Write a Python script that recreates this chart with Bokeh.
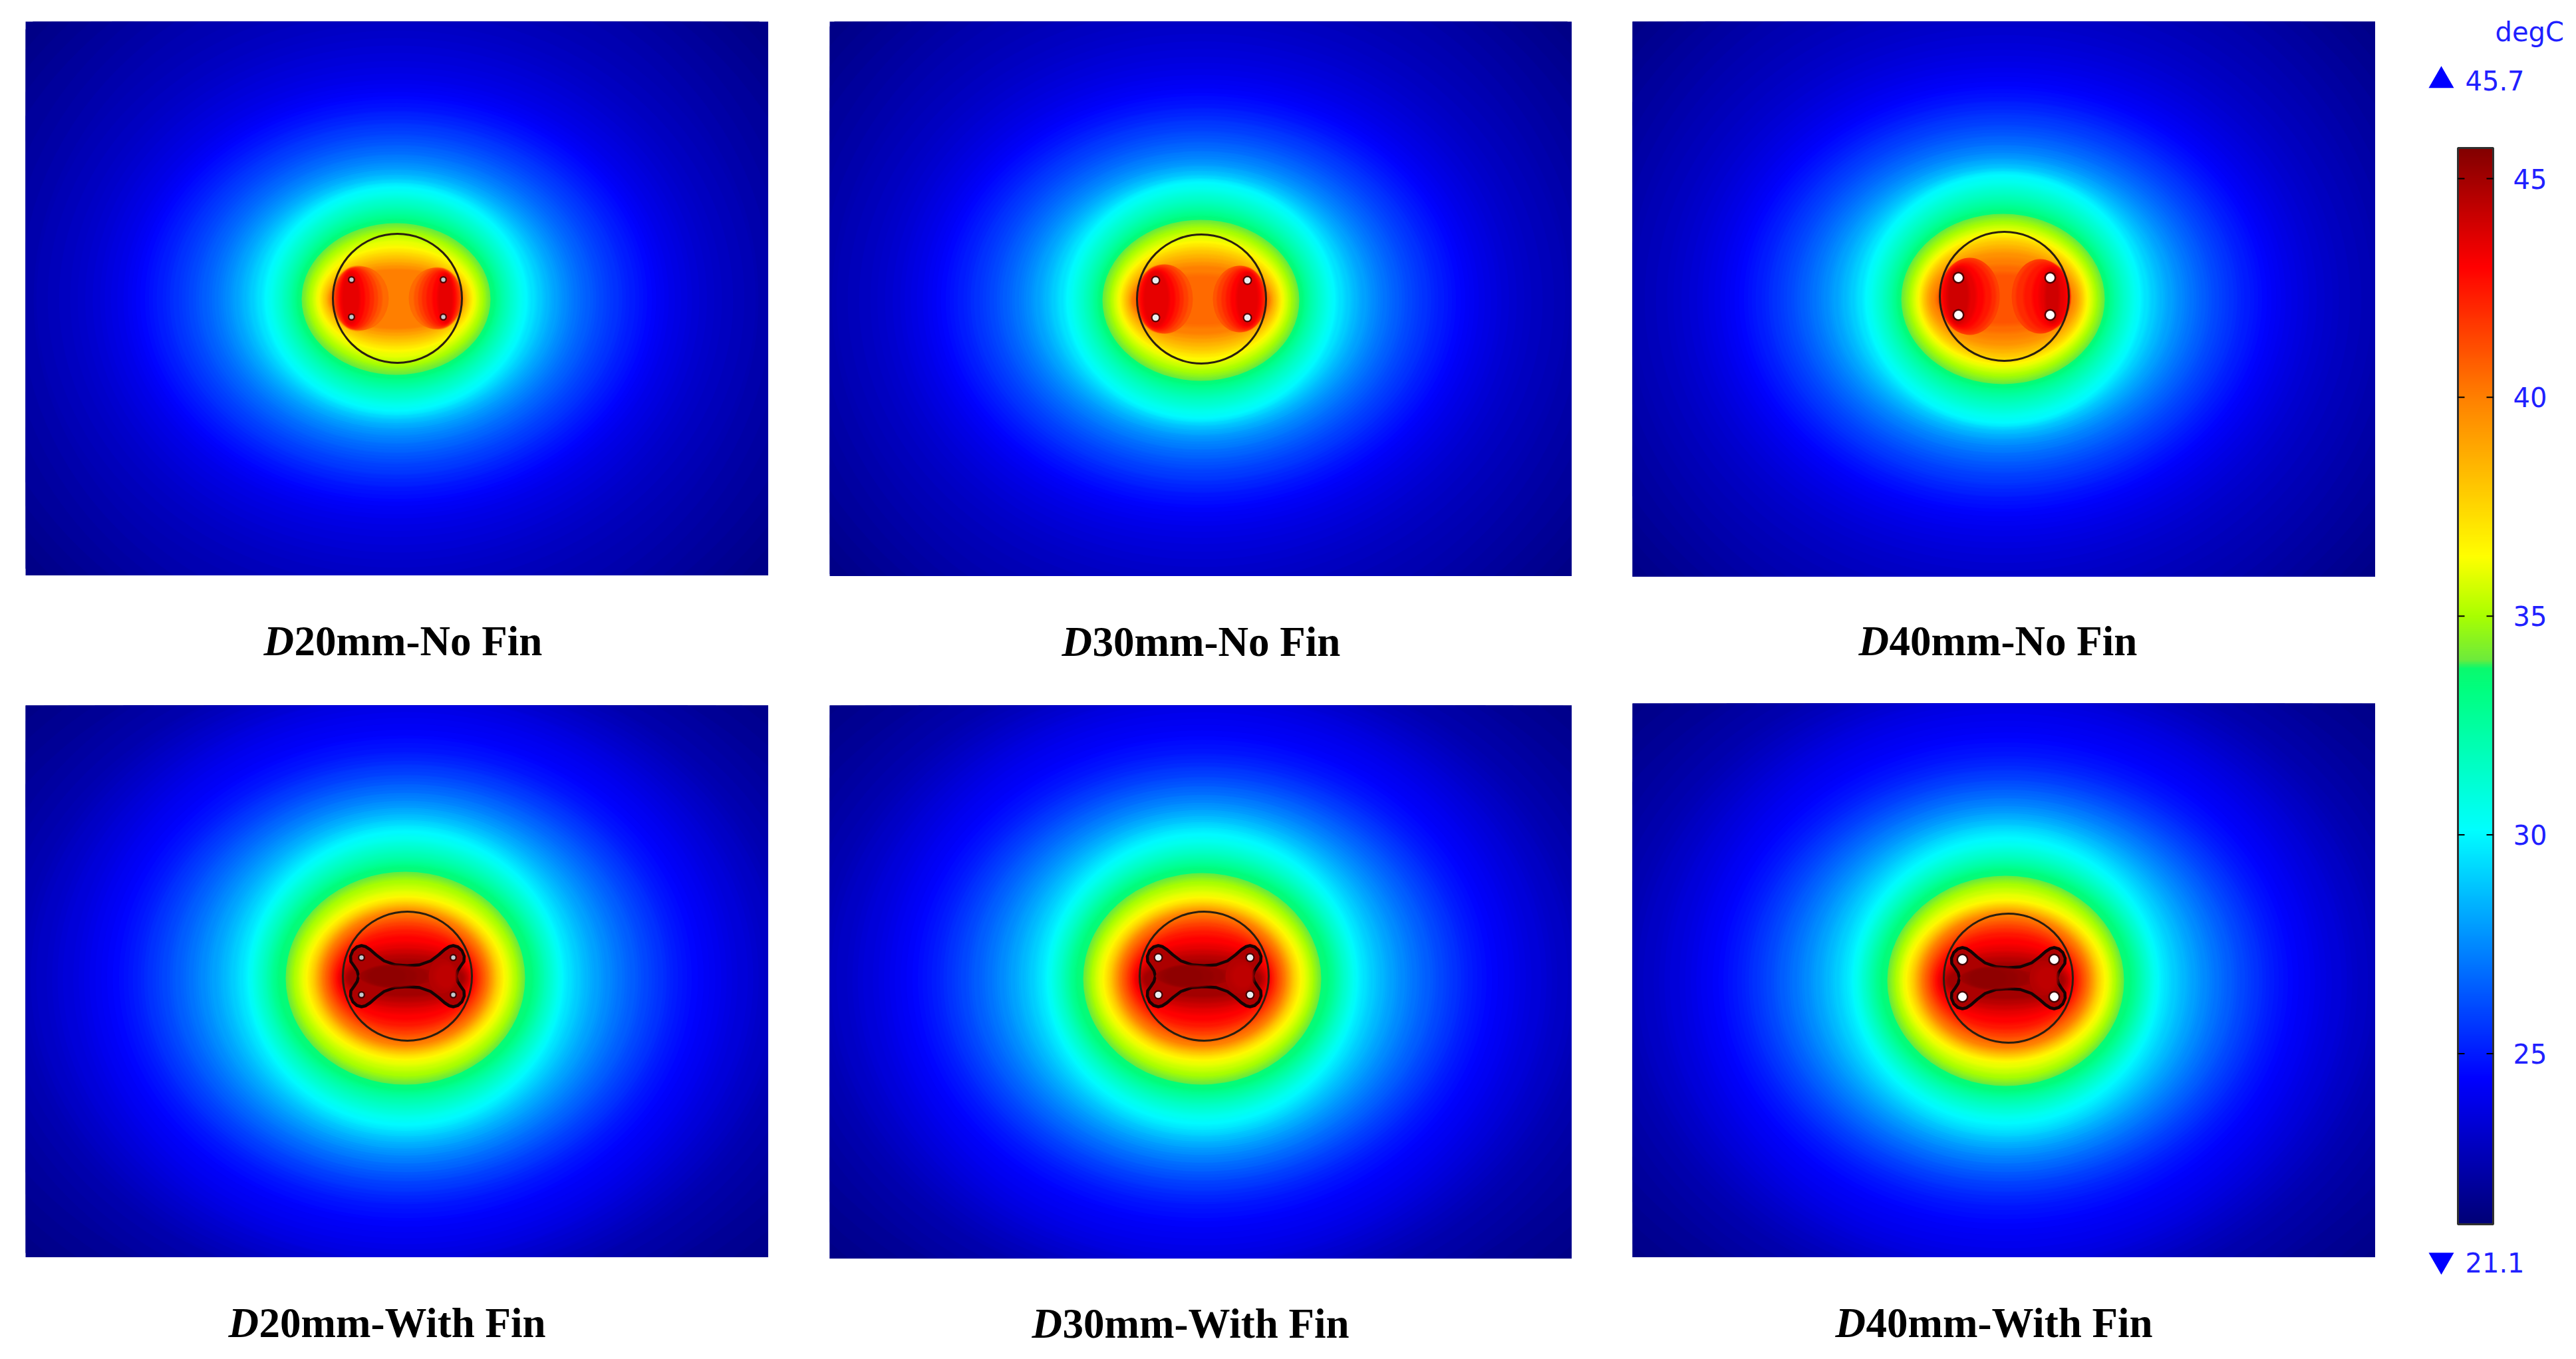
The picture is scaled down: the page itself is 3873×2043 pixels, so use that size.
import numpy as np
from bokeh.embed import file_html
from bokeh.resources import INLINE
from bokeh.core.properties import value
from bokeh.layouts import column, row, Spacer
from bokeh.models import ColumnDataSource, LinearColorMapper, Range1d
from bokeh.plotting import figure

# ---------- colour scale ----------
T_MIN, T_MAX = 21.1, 45.7
SCALE_T = [21.1, 24.4, 30.1, 33.3, 33.8, 34.0, 35.0, 36.35, 40.0, 43.0, 45.7]
SCALE_R = [0, 0, 0, 0, 10, 110, 170, 255, 255, 255, 130]
SCALE_G = [0, 0, 255, 255, 250, 235, 255, 255, 128, 0, 0]
SCALE_B = [120, 255, 255, 128, 110, 60, 0, 0, 0, 0, 0]
TICKS = [25, 30, 35, 40, 45]
TICK_LABELS = ["25", "30", "35", "40", "45"]
UNIT = "degC"
MAX_LABEL = "45.7"
MIN_LABEL = "21.1"

# ---------- isotherm levels (deg C) ----------
LEVELS = [21.5, 22.0, 22.5, 23.0, 23.5, 24.0, 24.5, 25.0, 25.5, 26.0, 26.5, 27.0, 27.5, 28.0, 28.5, 29.0,
          29.5, 30.0, 30.5, 31.0, 31.5, 32.0, 32.5, 33.0, 33.5, 34.0, 34.5, 35.0, 35.5, 36.0, 36.5, 37.0,
          37.5, 38.0, 38.5, 39.0, 39.5, 40.0, 40.5, 41.0, 41.5, 42.0, 42.5, 43.0, 43.5, 44.0, 44.5, 45.0]

# half-extent of each isotherm
RX_D20_NOFIN = [720, 640, 545, 490, 445, 410, 385, 360, 335, 312, 292, 273, 257, 243, 230, 219,
                208, 197, 188, 180, 172, 165, 158, 152, 147, 142, 136, 131, 125, 120, 116, 113,
                110, 107, 104, 102, 100, 98]
RY_D20_NOFIN = [640, 560, 495, 415, 370, 330, 305, 283, 265, 248, 232, 218, 206, 195, 187, 180,
                174, 169, 161, 153, 146, 138, 131, 124, 118, 114, 107, 101, 94, 87, 79, 74,
                69, 64, 59, 54, 49, 44]
RX_D30_NOFIN = [725, 645, 555, 497, 452, 418, 391, 366, 341, 318, 298, 280, 263, 249, 235, 224,
                213, 202, 193, 185, 177, 170, 163, 157, 152, 148, 142, 136, 131, 126, 122, 119,
                116, 113, 110, 107, 105, 102, 98]
RY_D30_NOFIN = [645, 568, 503, 425, 378, 339, 312, 290, 272, 255, 239, 225, 213, 202, 195, 188,
                182, 178, 170, 161, 153, 145, 138, 131, 125, 121, 115, 109, 102, 95, 89, 84,
                79, 74, 68, 62, 56, 50, 36]
RX_D40_NOFIN = [730, 650, 565, 505, 460, 425, 397, 372, 347, 325, 305, 287, 270, 255, 241, 229,
                218, 207, 198, 190, 182, 175, 168, 162, 157, 153, 147, 141, 136, 131, 127, 124,
                121, 118, 115, 112, 108, 102, 98, 94]
RY_D40_NOFIN = [650, 575, 510, 435, 385, 348, 320, 298, 280, 262, 246, 232, 220, 210, 203, 196,
                191, 187, 178, 169, 161, 153, 145, 138, 132, 128, 122, 116, 110, 104, 99, 95,
                91, 86, 80, 74, 68, 58, 48, 36]
RX_D20_FIN = [800, 690, 600, 555, 515, 475, 440, 410, 388, 366, 346, 326, 308, 291, 275, 262,
              249, 237, 230, 223, 216, 209, 203, 197, 190, 180, 174, 168, 161, 155, 149, 145,
              141, 137, 134, 131, 128, 125, 121, 117, 113, 109, 105, 100, 97, 94, 90, 86]
RY_D20_FIN = [590, 520, 475, 450, 425, 400, 365, 340, 322, 306, 292, 279, 267, 256, 247, 238,
              230, 222, 212, 203, 195, 187, 179, 172, 166, 160, 153, 147, 138, 130, 123, 119,
              115, 112, 109, 106, 103, 100, 94, 88, 83, 77, 71, 62, 50, 42, 34, 26]
RX_D30_FIN = [795, 685, 595, 550, 510, 470, 436, 407, 384, 363, 343, 323, 305, 288, 273, 259,
              246, 234, 227, 220, 213, 207, 201, 195, 188, 179, 173, 167, 161, 155, 149, 145,
              141, 137, 134, 131, 128, 125, 121, 117, 113, 109, 105, 100, 97, 94, 90, 86]
RY_D30_FIN = [595, 525, 480, 452, 428, 401, 365, 339, 320, 304, 290, 277, 265, 254, 245, 236,
              228, 219, 209, 200, 192, 185, 178, 171, 165, 159, 152, 146, 138, 130, 123, 119,
              115, 112, 109, 106, 103, 100, 94, 88, 83, 77, 71, 62, 50, 42, 34, 26]
RX_D40_FIN = [790, 680, 590, 545, 505, 465, 432, 404, 381, 360, 340, 321, 303, 286, 271, 257,
              243, 231, 224, 217, 211, 205, 199, 193, 186, 178, 172, 166, 160, 155, 150, 146,
              142, 138, 135, 132, 129, 126, 122, 118, 114, 110, 106, 101, 97, 94, 90, 86]
RY_D40_FIN = [600, 530, 485, 455, 430, 402, 365, 338, 318, 302, 288, 275, 263, 252, 243, 234,
              226, 216, 206, 198, 190, 183, 176, 170, 164, 158, 152, 146, 138, 130, 122, 118,
              115, 112, 109, 106, 103, 100, 94, 88, 83, 77, 71, 62, 50, 42, 34, 26]

# warm lobes near the pipes, no-fin panels (temperature, offset from tube centre, half extents)
LOBE_T_D20 = [40.5, 41.0, 41.5, 42.0, 42.5, 43.0, 43.5]
LOBE_L_DX_D20 = [-55, -60, -62, -64, -66, -68, -70]
LOBE_L_RX_D20 = [42, 36, 32, 28, 23, 18, 12]
LOBE_L_RY_D20 = [48, 47, 46, 45, 43, 41, 37]
LOBE_R_DX_D20 = [57, 61, 63, 65, 67, 70, 72]
LOBE_R_RX_D20 = [40, 35, 31, 27, 22, 16, 10]
LOBE_R_RY_D20 = [46, 45, 44, 42, 40, 38, 35]
LOBE_T_D30 = [41.0, 41.5, 42.0, 42.5, 43.0, 43.5]
LOBE_L_DX_D30 = [-55, -59, -62, -64, -66, -68]
LOBE_L_RX_D30 = [42, 38, 34, 30, 25, 18]
LOBE_L_RY_D30 = [52, 50, 48, 46, 43, 40]
LOBE_R_DX_D30 = [57, 60, 63, 65, 67, 69]
LOBE_R_RX_D30 = [40, 36, 32, 27, 22, 15]
LOBE_R_RY_D30 = [50, 48, 46, 44, 41, 38]
LOBE_T_D40 = [41.5, 42.0, 42.5, 43.0, 43.5, 44.0]
LOBE_L_DX_D40 = [-52, -55, -58, -62, -66, -69]
LOBE_L_RX_D40 = [45, 41, 37, 30, 22, 14]
LOBE_L_RY_D40 = [58, 54, 50, 46, 42, 38]
LOBE_R_DX_D40 = [54, 58, 64, 70, 72, 72]
LOBE_R_RX_D40 = [43, 39, 33, 26, 17, 9]
LOBE_R_RY_D40 = [56, 52, 48, 44, 40, 37]

# fin outline, one quadrant, relative to the tube centre
FIN_DX = [0, 18, 35, 47, 56, 63, 69, 76, 82, 85.5, 85, 80, 75.5, 73.5]
FIN_DY = [-15.7, -17, -23, -32, -40, -44.5, -46, -44, -38.5, -30, -22, -15, -8, 0]
FIN_T = 44.8
FIN_CORE_T = [45.0, 45.15, 45.3, 45.4]
FIN_CORE_DX = [-15, -20, -25, -30]
FIN_CORE_RX = [58, 48, 36, 25]
FIN_CORE_RY = [15, 14, 13, 12]
FIN_WARM_T = [44.6, 44.4]
FIN_WARM_DX = [52, 58]
FIN_WARM_RX = [20, 14]
FIN_WARM_RY = [26, 16]

PIPE_DX = [-69, 69, -69, 69]
PIPE_DY = [-28, -28, 28, 28]

CAPTIONS = ["20mm-No Fin", "30mm-No Fin", "40mm-No Fin", "20mm-With Fin", "30mm-With Fin", "40mm-With Fin"]
CAPTION_ITALIC = "D"

# ---------- scale ----------
ramp = np.linspace(T_MIN, T_MAX, 1024)
rgb = np.stack([np.interp(ramp, SCALE_T, c) for c in (SCALE_R, SCALE_G, SCALE_B)], axis=1).astype(int)
palette = ["#%02x%02x%02x" % tuple(c) for c in rgb]
mapper = LinearColorMapper(palette=palette, low=T_MIN, high=T_MAX)
T_COLOR = {"field": "T", "transform": mapper}


def ellipses(p, cx, cy, temps, rx, ry, dx=None):
    """Each isotherm is drawn as a filled ellipse; soft translucent rims blend it into the band outside it."""
    n = min(len(temps), len(rx), len(ry))
    dx = dx or [0] * n
    rows = dict(x=[], y=[], w=[], h=[], T=[], lw=[], la=[], fa=[])

    def add(i, lw, la, fa):
        rows["x"].append(cx + dx[i])
        rows["y"].append(cy)
        rows["w"].append(2 * rx[i])
        rows["h"].append(2 * ry[i])
        rows["T"].append(temps[i])
        rows["lw"].append(lw)
        rows["la"].append(la)
        rows["fa"].append(fa)

    for i in range(n):
        if i > 0 and temps[i] != 34.0:
            gap = ((rx[i - 1] - rx[i]) + (ry[i - 1] - ry[i])) / 2
            if gap > 1:
                add(i, 1.5 * gap, 0.25, 0.0)
                add(i, 1.0 * gap, 1 / 3, 0.0)
                add(i, 0.5 * gap, 0.5, 0.0)
        add(i, 0, 0.0, 1.0)
    src = ColumnDataSource(rows)
    p.ellipse("x", "y", width="w", height="h", source=src, fill_color=T_COLOR, fill_alpha="fa",
              line_color=T_COLOR, line_alpha="la", line_width="lw")


def panel(w, h, iso, tube, rx, ry, hole, ring, core_color, lobes=None, fin=False):
    p = figure(width=w, height=h, x_range=Range1d(0, w), y_range=Range1d(h, 0), output_backend="svg",
               toolbar_location=None, min_border=0, outline_line_color=None,
               background_fill_color="#000088", border_fill_color="white")
    p.axis.visible = False
    p.grid.visible = False
    ellipses(p, iso[0], iso[1], LEVELS, rx, ry)
    tx, ty = tube
    if lobes:
        t, ldx, lrx, lry, rdx, rrx, rry = lobes
        ellipses(p, tx, ty, t, lrx, lry, ldx)
        ellipses(p, tx, ty, t, rrx, rry, rdx)
    if fin:
        qx = FIN_DX + FIN_DX[::-1][1:] + [-v for v in FIN_DX[1:]] + [-v for v in FIN_DX[::-1][1:-1]]
        qy = FIN_DY + [-v for v in FIN_DY[::-1][1:]] + [-v for v in FIN_DY[1:]] + FIN_DY[::-1][1:-1]
        fill = palette[int((FIN_T - T_MIN) / (T_MAX - T_MIN) * 1023)]
        p.patch([tx + v for v in qx], [ty + v for v in qy], fill_color=fill,
                line_color="#140404", line_width=4.5)
        ellipses(p, tx, ty, FIN_CORE_T, FIN_CORE_RX, FIN_CORE_RY, FIN_CORE_DX)
        ellipses(p, tx, ty, FIN_WARM_T, FIN_WARM_RX, FIN_WARM_RY, FIN_WARM_DX)
    px = [tx + v for v in PIPE_DX]
    py = [ty + v for v in PIPE_DY]
    p.ellipse(px, py, width=2 * ring, height=2 * ring, fill_color="#200000", fill_alpha=0.75, line_color=None)
    p.ellipse(px, py, width=2 * hole, height=2 * hole, fill_color=core_color, line_color=None)
    p.ellipse([tx], [ty], width=2 * 97, height=2 * 97, fill_color=None, line_color="#2a1f10", line_width=3)
    return p


def caption(w, h, x0, base, text):
    p = figure(width=w, height=h, x_range=Range1d(0, w), y_range=Range1d(h, 0), output_backend="svg",
               toolbar_location=None, min_border=0, outline_line_color=None)
    p.axis.visible = False
    p.grid.visible = False
    p.text([x0], [base], text=[CAPTION_ITALIC], text_font=value("Liberation Serif"), text_font_size="63px",
           text_font_style="bold italic", text_color="black", text_baseline="alphabetic", text_align="left")
    p.text([x0 + 46], [base], text=[text], text_font=value("Liberation Serif"), text_font_size="63px",
           text_font_style="bold", text_color="black", text_baseline="alphabetic", text_align="left")
    return p


p1 = panel(1117, 833, (557, 417), (559, 416), RX_D20_NOFIN, RY_D20_NOFIN, 3.2, 5.5, "#c0ccd0",
           (LOBE_T_D20, LOBE_L_DX_D20, LOBE_L_RX_D20, LOBE_L_RY_D20, LOBE_R_DX_D20, LOBE_R_RX_D20, LOBE_R_RY_D20))
p2 = panel(1116, 834, (558, 419), (559, 417), RX_D30_NOFIN, RY_D30_NOFIN, 4.8, 7, "#e8eef0",
           (LOBE_T_D30, LOBE_L_DX_D30, LOBE_L_RX_D30, LOBE_L_RY_D30, LOBE_R_DX_D30, LOBE_R_RX_D30, LOBE_R_RY_D30))
p3 = panel(1117, 835, (557, 417), (559, 413), RX_D40_NOFIN, RY_D40_NOFIN, 6.5, 9, "white",
           (LOBE_T_D40, LOBE_L_DX_D40, LOBE_L_RX_D40, LOBE_L_RY_D40, LOBE_R_DX_D40, LOBE_R_RX_D40, LOBE_R_RY_D40))
p4 = panel(1117, 830, (571, 410), (574, 407), RX_D20_FIN, RY_D20_FIN, 3.2, 5.5, "#c0ccd0", fin=True)
p5 = panel(1116, 832, (560, 411), (563, 407), RX_D30_FIN, RY_D30_FIN, 4.8, 7, "#e8eef0", fin=True)
p6 = panel(1117, 833, (561, 417), (565, 413), RX_D40_FIN, RY_D40_FIN, 6.5, 9, "white", fin=True)

c1 = column(Spacer(height=32), p1, caption(1117, 195, 358, 98, CAPTIONS[0]), p4,
            caption(1117, 140, 305, 98, CAPTIONS[3]), spacing=0)
c2 = column(Spacer(height=32), p2, caption(1116, 194, 349, 98, CAPTIONS[1]), p5,
            caption(1116, 140, 304, 97, CAPTIONS[4]), spacing=0)
c3 = column(Spacer(height=32), p3, caption(1117, 190, 340, 96, CAPTIONS[2]), p6,
            caption(1117, 140, 305, 98, CAPTIONS[5]), spacing=0)

# ---------- colour bar: x in px from the bar's left edge, y in deg C ----------
PX_PER_DEG = 65.77
Y45 = 268
H = 2040
leg = figure(width=270, height=H, x_range=Range1d(-95, 175),
             y_range=Range1d(45 - (H - Y45) / PX_PER_DEG, 45 + Y45 / PX_PER_DEG),
             output_backend="svg", toolbar_location=None, outline_line_color=None, min_border=0)
leg.axis.visible = False
leg.grid.visible = False
grad = np.linspace(T_MIN, T_MAX, 1618).reshape(-1, 1)
leg.image(image=[grad], x=0, y=T_MIN, dw=53, dh=T_MAX - T_MIN, color_mapper=mapper)
leg.quad(left=[0], right=[53], bottom=[T_MIN], top=[T_MAX], fill_color=None, line_color="#303030", line_width=3)
leg.segment(x0=[0] * 5, x1=[10] * 5, y0=TICKS, y1=TICKS, line_color="black", line_width=2)
leg.segment(x0=[43] * 5, x1=[53] * 5, y0=TICKS, y1=TICKS, line_color="black", line_width=2)
BLUE = "#2020ff"
FONT = value("DejaVu Sans")
leg.text([83] * 5, TICKS, text=TICK_LABELS, text_color=BLUE, text_font=FONT, text_font_size="40px",
         text_baseline="middle", text_align="left")
leg.text([56], [48.36], text=[UNIT], text_color=BLUE, text_font=FONT, text_font_size="40px",
         text_baseline="middle", text_align="left")
leg.text([11], [47.25], text=[MAX_LABEL], text_color=BLUE, text_font=FONT, text_font_size="40px",
         text_baseline="middle", text_align="left")
leg.text([11], [20.22], text=[MIN_LABEL], text_color=BLUE, text_font=FONT, text_font_size="40px",
         text_baseline="middle", text_align="left")
leg.scatter([-25], [47.24], marker="triangle", size=38, fill_color="#0000ff", line_color=None)
leg.scatter([-25], [20.28], marker="inverted_triangle", size=38, fill_color="#0000ff", line_color=None)

page = row(Spacer(width=38), c1, Spacer(width=92), c2, Spacer(width=91), c3, Spacer(width=29), leg, spacing=0)
open("out.html", "w").write(file_html(page, INLINE))
